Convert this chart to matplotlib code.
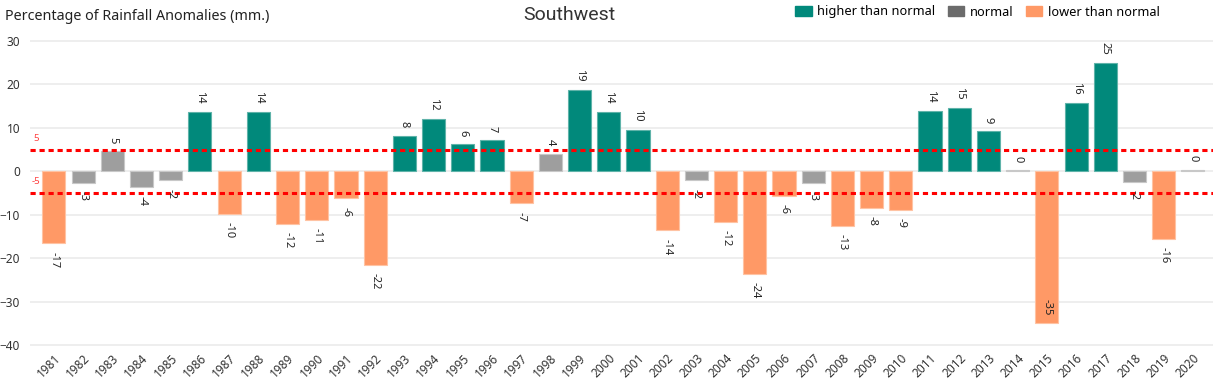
import numpy as np
import matplotlib.pyplot as plt
from matplotlib.patches import Patch

years = [str(y) for y in range(1981, 2021)]
anomaly = [-16.6, -2.7, 4.6, -3.7, -2.1, 13.6, -9.8, 13.6, -12.1, -11.2,
           -6.2, -21.6, 8.2, 12.1, 6.2, 7.1, -7.4, 4.0, 18.8, 13.7,
           9.6, -13.6, -2.1, -11.6, -23.6, -5.6, -2.7, -12.6, -8.4, -8.8,
           14.0, 14.6, 9.2, 0.2, -35.0, 15.8, 25.0, -2.4, -15.6, 0.4]
upper_limit = 5
lower_limit = -5

teal = '#01897B'
grey = '#9E9E9E'
orange = '#FF9966'

plt.rcParams['font.family'] = ['Noto Sans', 'DejaVu Sans']

fig = plt.figure(figsize=(12.2, 3.83), dpi=100)
ax = fig.add_axes([30 / 1220, 0.0958, 1183 / 1220, 0.8005])

x = np.arange(len(years))
vals = np.array(anomaly)
colors = [teal if v > upper_limit else orange if v < lower_limit else grey for v in vals]
edges = ['#5FB3A9' if v > upper_limit else '#FFC3A3' if v < lower_limit else '#C8C8C8' for v in vals]
ax.bar(x, vals, width=0.79, color=colors, edgecolor=edges, linewidth=0.8, zorder=2)

for xi, v in zip(x, vals):
    label = f"{v:.0f}"
    if v < -30:
        # no room below the bar, put the label inside its end
        ax.annotate(label, (xi, v), xytext=(0, 6), textcoords='offset points',
                    rotation=270, ha='center', va='bottom', fontsize=8, color='#222222', zorder=4)
    elif v >= 0:
        ax.annotate(label, (xi, v), xytext=(0, 6), textcoords='offset points',
                    rotation=270, ha='center', va='bottom', fontsize=8, color='#222222', zorder=4)
    else:
        ax.annotate(label, (xi, v), xytext=(0, -6), textcoords='offset points',
                    rotation=270, ha='center', va='top', fontsize=8, color='#222222', zorder=4)

# threshold lines
for lim in (upper_limit, lower_limit):
    ax.axhline(lim, color='#FF0000', linewidth=2.2, linestyle=(0, (1.7, 1.25)), zorder=3)
ax.text(-0.7, upper_limit + 1.5, str(upper_limit), color='#FF4040', fontsize=7, va='bottom', ha='left')
ax.text(-0.75, lower_limit + 1.5, str(lower_limit), color='#FF4040', fontsize=7, va='bottom', ha='left')

ax.set_xlim(-0.82, 39.69)
ax.set_ylim(-40.3, 30.3)
ax.set_yticks(np.arange(-40, 31, 10))
ax.grid(axis='y', color='#E9E9E9', linewidth=1.1, zorder=0)
ax.set_axisbelow(True)
ax.set_xticks(x)
ax.set_xticklabels(years, rotation=45, ha='right', rotation_mode='anchor', fontsize=8.5, color='#333333')
ax.tick_params(axis='both', length=0)
ax.tick_params(axis='y', labelsize=8.5, labelcolor='#333333', pad=7)
ax.tick_params(axis='x', pad=4)
for s in ax.spines.values():
    s.set_visible(False)

fig.text(5 / 1220, 1 - 17 / 383, 'Percentage of Rainfall Anomalies (mm.)', fontsize=10.3,
         color='#222222', ha='left', va='center')
fig.text(569 / 1220, 1 - 15 / 383, 'Southwest', fontsize=14, color='#333333',
         ha='center', va='center', family=['Roboto', 'DejaVu Sans'])

handles = [Patch(color=teal), Patch(color='#6B6B6B'), Patch(color=orange)]
fig.legend(handles, ['higher than normal', 'normal', 'lower than normal'], ncol=3,
           loc='center right', bbox_to_anchor=(1160 / 1220, 1 - 12 / 383), frameon=False,
           fontsize=9.2, handlelength=1.3, handleheight=0.75, handletextpad=0.45,
           columnspacing=0.95, borderpad=0, borderaxespad=0)

fig.savefig('out.png', dpi=100)
